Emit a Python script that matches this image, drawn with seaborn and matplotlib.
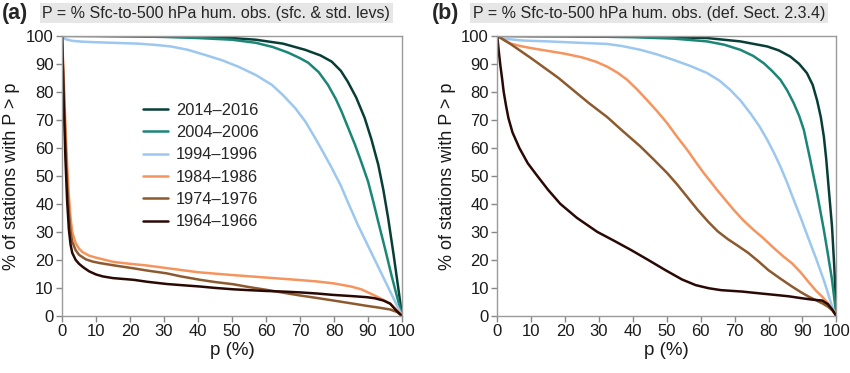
import numpy as np
import pandas as pd
import seaborn as sns
from matplotlib import pyplot as plt

periods = ['2014–2016', '2004–2006', '1994–1996', '1984–1986', '1974–1976', '1964–1966']
colors = ['#073f38', '#1b8676', '#9cc7ef', '#f6945e', '#8c5a2e', '#2a0904']

# panel (a): sfc. & std. levels
a14_p = [0, 10, 20, 30, 40, 50, 57, 65, 71.5, 76, 79.3, 82, 84, 86.5, 89, 91, 93, 94.5, 95.9, 97.5, 99, 100]
a14_y = [100, 100, 99.9, 99.8, 99.6, 99.2, 98.6, 97.2, 95, 93, 90.8, 87.5, 83.7, 78, 70.7, 63, 54, 45, 35, 22, 9, 0]
a04_p = [0, 10, 20, 30, 40, 50, 57, 62, 66.5, 70, 72.4, 75.5, 78.2, 80.5, 82.2, 84.2, 86.2, 88, 90, 91.5, 93, 95, 97, 98.5, 100]
a04_y = [100, 99.9, 99.8, 99.6, 99.2, 98.6, 97.5, 96, 94, 92, 90.4, 87, 82.5, 77.5, 73, 67, 61, 55, 48, 41, 33.6, 24, 14, 7, 0]
a94_p = [0, 1, 3, 6, 10, 15, 22.4, 27, 32, 37, 42, 47, 51.8, 57, 61.7, 65, 68.5, 71.5, 74.4, 77, 79.3, 82, 84, 87, 90, 93, 96, 98, 100]
a94_y = [100, 98.8, 98.2, 97.9, 97.7, 97.5, 97.2, 96.8, 96.2, 95, 93.2, 91.3, 89, 86, 82.5, 78.8, 74.3, 69.5, 63.6, 58, 52.9, 46.5, 40.8, 32.5, 25, 17.5, 10, 5, 0]
a84_p = [0, 0.5, 1, 1.5, 2, 2.5, 3, 4, 5, 6, 8, 10, 12, 15, 20, 25, 30, 40, 50, 60, 70, 75, 80, 85, 88, 90, 92.6, 95, 96.5, 98, 100]
a84_y = [100, 85, 68, 54, 43, 35, 30, 26, 24, 22.8, 21.5, 20.8, 20.2, 19.3, 18.6, 18, 17.2, 15.6, 14.6, 13.7, 12.8, 12.3, 11.6, 10.5, 9.5, 8.4, 6.9, 5.4, 4.3, 2.6, 0]
a74_p = [0, 0.5, 1, 1.5, 2, 2.5, 3, 4, 5, 7, 9, 11, 15, 21, 25, 30.8, 35, 40.6, 45, 50.4, 55, 60.2, 65, 70, 75, 79.8, 85, 89.6, 93, 96.5, 98.5, 100]
a74_y = [100, 80, 62, 47, 37, 30, 26.5, 23.5, 21.8, 20.2, 19.4, 18.9, 18.1, 17, 16.2, 15.2, 14.1, 12.9, 12.1, 11.3, 10.3, 9.3, 8.3, 7.3, 6.4, 5.5, 4.5, 3.6, 3, 2.3, 1.4, 0]
a64_p = [0, 0.5, 1, 1.5, 2, 2.5, 3, 4, 5, 6.3, 8, 10, 12, 15, 21, 25, 30.8, 35, 40.6, 45, 50.4, 55, 60.2, 65, 70, 75, 79.8, 85, 89.6, 92, 94.5, 96.5, 98.4, 100]
a64_y = [100, 76, 56, 41, 31, 25.5, 22.5, 20, 18.6, 17.3, 15.9, 14.8, 14.1, 13.5, 12.9, 12.2, 11.4, 11, 10.5, 10, 9.5, 9.2, 8.9, 8.7, 8.4, 8, 7.5, 7.1, 6.7, 6.3, 5.5, 4.4, 1.8, 0]

# panel (b): def. Sect. 2.3.4
b14_p = [0, 10, 20, 30, 40, 50, 61.9, 71.7, 79.6, 83, 86.4, 89, 91.3, 93, 94.3, 95.4, 96.3, 97, 97.7, 98.7, 99.4, 100]
b14_y = [100, 99.9, 99.9, 99.8, 99.7, 99.5, 99.2, 98, 96.2, 94.8, 92.6, 90, 86.7, 82.5, 77, 71, 64, 56, 46, 32, 17, 0]
b04_p = [0, 10, 20, 30, 40, 52, 61.9, 67, 71.7, 75.5, 78.6, 81, 83.5, 85.5, 87.4, 89, 90.4, 92.3, 94.3, 96.3, 97.5, 98.7, 100]
b04_y = [100, 99.9, 99.8, 99.7, 99.5, 99, 98, 96.8, 95, 92.8, 90.2, 87.5, 84.3, 80.5, 76, 71.5, 66.4, 55.7, 43.8, 30.7, 22, 13, 0]
b94_p = [0, 2, 5, 7.8, 15, 22.5, 32.4, 37, 42.2, 47, 52, 57, 61.9, 65.5, 68.7, 71.8, 74.6, 77.3, 79.6, 81.6, 83.5, 85.5, 87.4, 89.5, 91.5, 94, 96.5, 98.7, 100]
b94_y = [100, 99, 98.6, 98.3, 98, 97.6, 97.1, 96.3, 95, 93.4, 91.4, 89.2, 86.7, 84, 80.7, 76.8, 72.4, 67.7, 62.9, 58.2, 53.3, 47.5, 41.5, 35, 28.5, 20.5, 12, 3.5, 0]
b84_p = [0, 2, 4, 7, 10, 15, 20, 25, 29, 32.4, 35.5, 38.3, 41.3, 44.2, 47.2, 50.1, 53, 56, 58.5, 60.9, 63, 64.8, 67.2, 69.7, 72.5, 75.6, 78.6, 81.5, 84.3, 86.9, 89.5, 92, 94, 95.8, 97.5, 98.8, 100]
b84_y = [100, 98.5, 97.2, 96.3, 95.6, 94.6, 93.6, 92.3, 90.8, 89, 86.8, 84.3, 80.8, 77, 73, 68.8, 64, 59.3, 55, 51, 47.8, 45, 41.5, 37.9, 34.2, 30.7, 27.6, 24.3, 21.3, 18.8, 15.5, 11.8, 9, 6.9, 4.5, 2.3, 0]
b74_p = [0, 2, 4, 7, 10, 14, 18, 22.5, 27, 32.4, 37, 42.2, 46, 50.1, 53, 56, 59, 62.3, 65, 68, 71, 74, 77, 80, 83.5, 86.9, 89.5, 91.8, 94, 96, 97.5, 98.8, 100]
b74_y = [100, 98.5, 97, 94.5, 92, 88.5, 85, 80.5, 76, 71, 66, 60.5, 56, 51, 47, 42.5, 38, 33.5, 30.2, 27.4, 25, 22.5, 19.5, 16.3, 13.3, 10.5, 8.5, 6.9, 5.6, 4.4, 3.3, 2, 0]
b64_p = [0, 0.4, 0.9, 1.4, 1.9, 2.6, 3.3, 4.5, 6.5, 9, 11.8, 15, 18.6, 23.5, 29.5, 34.5, 39.5, 44.5, 49.5, 54.5, 58.5, 62.3, 66, 72.2, 77, 82, 86, 89.9, 93, 95.8, 97.5, 98.8, 100]
b64_y = [100, 95, 89.6, 85, 80, 75, 70.6, 65.5, 60, 54.5, 50, 45, 40, 35, 30, 26.8, 23.5, 20, 16.4, 13, 11, 9.9, 9.2, 8.7, 8.1, 7.5, 7, 6.3, 5.8, 5.5, 4.2, 2.2, 0]

panel_a = [(a14_p, a14_y), (a04_p, a04_y), (a94_p, a94_y), (a84_p, a84_y), (a74_p, a74_y), (a64_p, a64_y)]
panel_b = [(b14_p, b14_y), (b04_p, b04_y), (b94_p, b94_y), (b84_p, b84_y), (b74_p, b74_y), (b64_p, b64_y)]


def to_frame(series):
    parts = []
    for name, (p, y) in zip(periods, series):
        parts.append(pd.DataFrame({'p': p, 'pct': y, 'period': name}))
    return pd.concat(parts, ignore_index=True)


sns.set_style('white')
plt.rcParams['font.family'] = ['Liberation Sans', 'DejaVu Sans']

fig = plt.figure(figsize=(8.5, 3.73), dpi=100)
ax_a = fig.add_axes([0.073, 0.153, 0.4, 0.751])
ax_b = fig.add_axes([0.585, 0.153, 0.399, 0.751])

for ax, series, show_leg in [(ax_a, panel_a, True), (ax_b, panel_b, False)]:
    df = to_frame(series)
    sns.lineplot(data=df, x='p', y='pct', hue='period', hue_order=periods, palette=colors,
                 sort=False, estimator=None, linewidth=1.8, ax=ax, legend=show_leg)
    ax.set_xlim(0, 100)
    ax.set_ylim(0, 100)
    ax.set_xticks(range(0, 101, 10))
    ax.set_yticks(range(0, 101, 10))
    ax.tick_params(bottom=True, left=True, direction='out', length=4, width=1, color='#888888',
                   labelsize=12, labelcolor='#1a1a1a', pad=2)
    for s in ax.spines.values():
        s.set_color('#9a9a9a')
        s.set_linewidth(1)
    ax.set_xlabel('p (%)', fontsize=13.5, color='#1a1a1a', labelpad=2)
    ax.set_ylabel('% of stations with P > p', fontsize=13, color='#1a1a1a', labelpad=4)

sns.move_legend(ax_a, 'upper left', bbox_to_anchor=(0.22, 0.785), frameon=False, title=None,
                fontsize=11.8, handlelength=1.5, handletextpad=0.5, labelspacing=0.45, borderaxespad=0)

fig.text(0.002, 0.965, '(a)', fontsize=15.5, fontweight='bold', va='center', ha='left')
fig.text(0.05, 0.965, 'P = % Sfc-to-500 hPa hum. obs. (sfc. & std. levs)', fontsize=11.5,
         va='center', ha='left', bbox=dict(facecolor='#e6e6e6', edgecolor='none', pad=2))
fig.text(0.508, 0.965, '(b)', fontsize=15.5, fontweight='bold', va='center', ha='left')
fig.text(0.556, 0.965, 'P = % Sfc-to-500 hPa hum. obs. (def. Sect. 2.3.4)', fontsize=11.5,
         va='center', ha='left', bbox=dict(facecolor='#e6e6e6', edgecolor='none', pad=2))

fig.savefig('out.png', dpi=100)
